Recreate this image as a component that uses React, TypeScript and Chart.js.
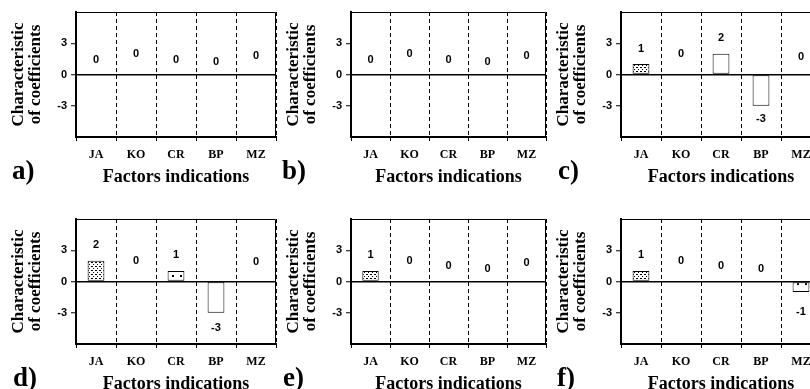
import React, { useEffect, useRef } from "react";
import { Chart, registerables } from "chart.js";

Chart.register(...registerables);

// Shared axis content
const categories = ["JA", "KO", "CR", "BP", "MZ"];
const yTickValues = [-3, 0, 3];
const yMin = -6;
const yMax = 6;
const xTitle = "Factors indications";
const yTitle = ["Characteristic", "of coefficients"];
const panelLetters = ["a)", "b)", "c)", "d)", "e)", "f)"];

// Coefficient of each factor, per variant
const valuesA = [0, 0, 0, 0, 0];
const valuesB = [0, 0, 0, 0, 0];
const valuesC = [1, 0, 2, -3, 0];
const valuesD = [2, 0, 1, -3, 0];
const valuesE = [1, 0, 0, 0, 0];
const valuesF = [1, 0, 0, 0, -1];

// Bar fill style of each factor
const fillsA = ["dense", "none", "none", "none", "none"];
const fillsB = ["dense", "none", "none", "none", "none"];
const fillsC = ["dense", "none", "none", "none", "none"];
const fillsD = ["dense", "none", "sparse", "none", "none"];
const fillsE = ["dense", "none", "none", "none", "none"];
const fillsF = ["dense", "none", "none", "none", "sparse"];

// Height (coefficient units) where each value label is centred
const labelAtA = [1.43, 2.0, 1.43, 1.2, 1.75];
const labelAtB = [1.43, 2.0, 1.43, 1.2, 1.75];
const labelAtC = [2.45, 1.97, 3.5, -4.3, 1.71];
const labelAtD = [3.48, 1.94, 2.5, -4.45, 1.87];
const labelAtE = [2.5, 1.94, 1.48, 1.23, 1.77];
const labelAtF = [2.5, 1.97, 1.45, 1.23, -2.9];

const SERIF = "'Liberation Serif', 'Times New Roman', serif";
const SANS = "'Liberation Sans', Arial, sans-serif";

const CANVAS_W = 280;
const CANVAS_H = 199;
const AXIS_W = 76;
const PLOT_TOP = 12;
const PLOT_H = 125;
const LETTER_BASELINE = 179;

type PanelDef = {
  values: number[];
  fills: string[];
  labelAt: number[];
  letter: string;
  left: number;
  top: number;
  plotW: number;
  letterX: number;
};

const PANELS: PanelDef[] = [
  { values: valuesA, fills: fillsA, labelAt: labelAtA, letter: panelLetters[0], left: 0, top: 0, plotW: 200, letterX: 12 },
  { values: valuesB, fills: fillsB, labelAt: labelAtB, letter: panelLetters[1], left: 275, top: 0, plotW: 195, letterX: 7 },
  { values: valuesC, fills: fillsC, labelAt: labelAtC, letter: panelLetters[2], left: 545, top: 0, plotW: 200, letterX: 13 },
  { values: valuesD, fills: fillsD, labelAt: labelAtD, letter: panelLetters[3], left: 0, top: 207, plotW: 200, letterX: 13 },
  { values: valuesE, fills: fillsE, labelAt: labelAtE, letter: panelLetters[4], left: 275, top: 207, plotW: 195, letterX: 8 },
  { values: valuesF, fills: fillsF, labelAt: labelAtF, letter: panelLetters[5], left: 545, top: 207, plotW: 200, letterX: 12 },
];

// Dotted fills for the bars
function makePattern(kind: string): CanvasPattern | string {
  if (kind === "none") return "#ffffff";
  const tile = document.createElement("canvas");
  const size = kind === "dense" ? 4 : 8;
  tile.width = size;
  tile.height = size;
  const c = tile.getContext("2d")!;
  c.fillStyle = "#ffffff";
  c.fillRect(0, 0, size, size);
  c.fillStyle = "#000000";
  if (kind === "dense") {
    c.fillRect(1, 1, 1, 1);
    c.fillRect(3, 3, 1, 1);
    c.fillRect(0, 3, 1, 1);
  } else {
    c.fillRect(4, 4, 2, 2);
  }
  return c.createPattern(tile, "repeat") || "#ffffff";
}

function Panel({ p }: { p: PanelDef }) {
  const ref = useRef<HTMLCanvasElement>(null);

  useEffect(() => {
    const canvas = ref.current!;

    const framePlugin = {
      id: "frame",
      afterDraw(chart: any) {
        const { ctx, chartArea } = chart;
        ctx.save();
        ctx.strokeStyle = "#000";
        ctx.lineWidth = 1;
        ctx.beginPath();
        ctx.moveTo(chartArea.left, chartArea.top + 0.5);
        ctx.lineTo(chartArea.right - 0.5, chartArea.top + 0.5);
        ctx.lineTo(chartArea.right - 0.5, chartArea.bottom);
        ctx.stroke();
        ctx.restore();
      },
    };

    const valueLabels = {
      id: "valueLabels",
      afterDatasetsDraw(chart: any) {
        const { ctx } = chart;
        const xs = chart.scales.x;
        const ys = chart.scales.y;
        ctx.save();
        ctx.fillStyle = "#000";
        ctx.font = `bold 11px ${SANS}`;
        ctx.textAlign = "center";
        ctx.textBaseline = "middle";
        p.values.forEach((v, i) => {
          ctx.fillText(String(v), xs.getPixelForValue(i), ys.getPixelForValue(p.labelAt[i]));
        });
        ctx.restore();
      },
    };

    const letterPlugin = {
      id: "panelLetter",
      afterDraw(chart: any) {
        const { ctx } = chart;
        ctx.save();
        ctx.fillStyle = "#000";
        ctx.font = `bold 27px ${SERIF}`;
        ctx.textAlign = "left";
        ctx.textBaseline = "alphabetic";
        ctx.fillText(p.letter, p.letterX, LETTER_BASELINE);
        ctx.restore();
      },
    };

    const chart = new Chart(canvas, {
      type: "bar",
      data: {
        labels: categories,
        datasets: [
          {
            data: p.values,
            backgroundColor: p.fills.map(makePattern) as any,
            borderColor: "#000",
            borderWidth: p.values.map((v) => (v === 0 ? 0 : 1)),
            borderSkipped: false,
            barPercentage: 0.42,
            categoryPercentage: 1,
          },
        ],
      },
      options: {
        responsive: false,
        animation: false,
        devicePixelRatio: 1,
        layout: {
          padding: { top: PLOT_TOP, left: 0, bottom: 0, right: CANVAS_W - AXIS_W - p.plotW },
        },
        plugins: {
          legend: { display: false },
          tooltip: { enabled: false },
        },
        scales: {
          x: {
            offset: true,
            grid: {
              display: true,
              offset: true,
              color: "#000",
              lineWidth: 1,
              drawOnChartArea: true,
              drawTicks: true,
              tickLength: 4,
              tickColor: "#000",
            },
            border: { display: true, color: "#000", width: 2, dash: [4, 3] },
            ticks: {
              color: "#000",
              font: { family: SERIF, size: 12, weight: "bold" },
              padding: 7,
              maxRotation: 0,
              autoSkip: false,
            },
            title: {
              display: true,
              text: xTitle,
              color: "#000",
              font: { family: SERIF, size: 18, weight: "bold", lineHeight: 1 },
              padding: { top: 0, bottom: 13 },
            },
            afterFit: (s: any) => {
              s.height = CANVAS_H - PLOT_TOP - PLOT_H;
            },
          },
          y: {
            min: yMin,
            max: yMax,
            afterBuildTicks: (s: any) => {
              s.ticks = yTickValues.map((v) => ({ value: v }));
            },
            grid: {
              color: (c: any) => (c.tick && c.tick.value === 0 ? "#000" : "rgba(0,0,0,0)"),
              tickColor: "#000",
              tickLength: 5,
              tickWidth: 1,
              lineWidth: 1.5,
              drawTicks: true,
            },
            border: { display: true, color: "#000", width: 2 },
            ticks: {
              color: "#000",
              font: { family: SANS, size: 11, weight: "bold" },
              padding: 4,
            },
            title: {
              display: true,
              text: yTitle,
              color: "#000",
              font: { family: SERIF, size: 17, weight: "bold", lineHeight: 1 },
              padding: { top: 10, bottom: 0 },
            },
            afterFit: (s: any) => {
              s.width = AXIS_W;
            },
          },
        },
      } as any,
      plugins: [framePlugin, valueLabels, letterPlugin],
    });

    return () => chart.destroy();
  }, [p]);

  return (
    <canvas
      ref={ref}
      width={CANVAS_W}
      height={CANVAS_H}
      style={{ position: "absolute", left: p.left, top: p.top, width: CANVAS_W, height: CANVAS_H }}
    />
  );
}

export default function App() {
  return (
    <div
      style={{
        position: "absolute",
        left: 0,
        top: 0,
        width: 810,
        height: 389,
        overflow: "hidden",
        background: "#fff",
      }}
    >
      {PANELS.map((p, i) => (
        <Panel key={i} p={p} />
      ))}
    </div>
  );
}
